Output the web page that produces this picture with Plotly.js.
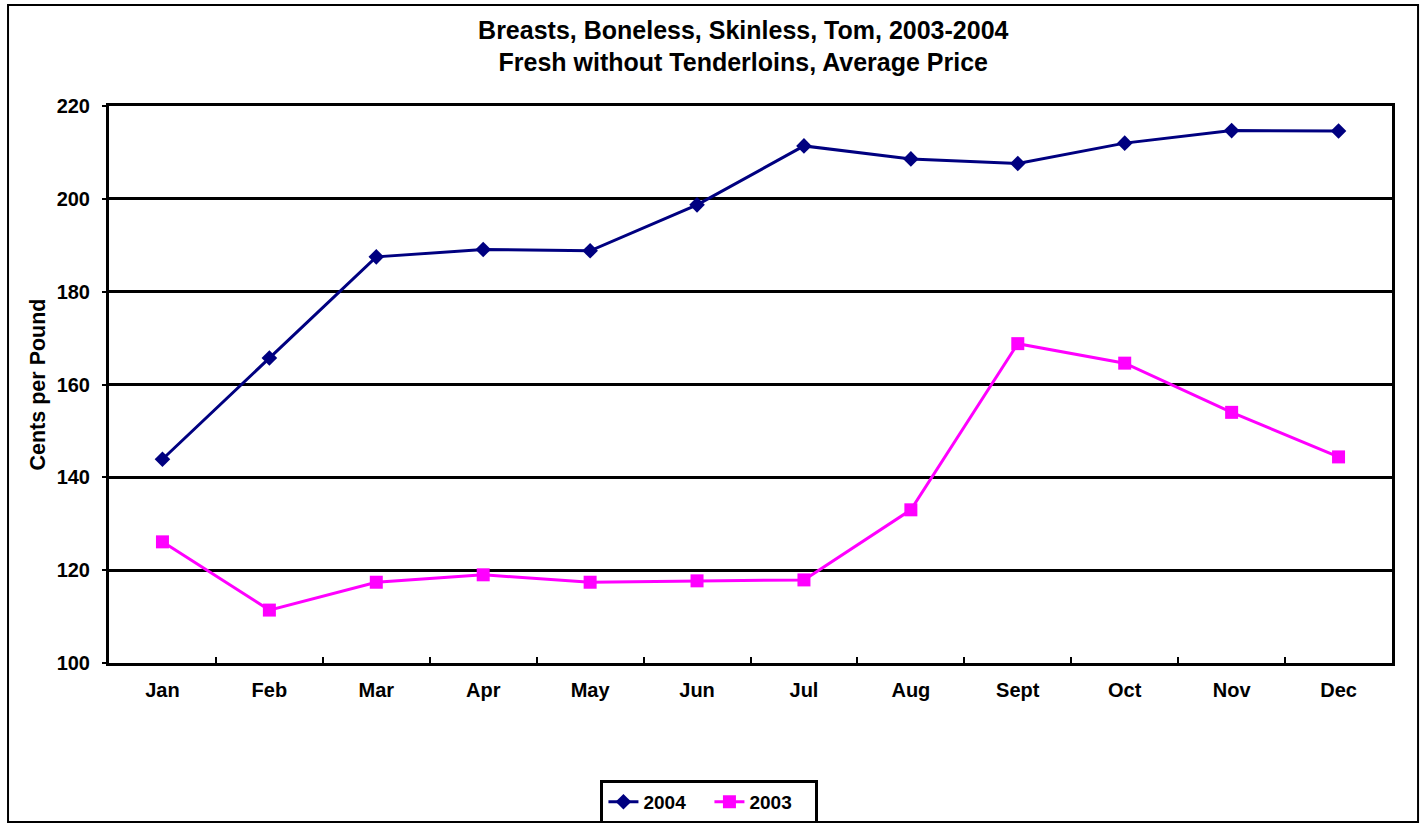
<!DOCTYPE html>
<html>
<head>
<meta charset="utf-8">
<script src="https://cdn.plot.ly/plotly-3.0.1.min.js"></script>
<style>
html,body{margin:0;padding:0;background:#fff;}
#chart{width:1425px;height:823px;}
</style>
</head>
<body>
<div id="chart"></div>
<script>
const months = ["Jan","Feb","Mar","Apr","May","Jun","Jul","Aug","Sept","Oct","Nov","Dec"];
const values2004 = [143.9, 165.7, 187.5, 189.1, 188.8, 198.7, 211.4, 208.6, 207.6, 212.0, 214.7, 214.6];
const values2003 = [126.1, 111.4, 117.4, 119.0, 117.4, 117.7, 117.9, 133.0, 168.8, 164.6, 154.0, 144.4];
const yTicks = [100, 120, 140, 160, 180, 200, 220];

const font = {family: "Liberation Sans, Arial, sans-serif", color: "#000", weight: "bold"};

const traces = [
  {
    x: months, y: values2004, name: "2004", type: "scatter", mode: "lines+markers",
    line: {color: "#000080", width: 3},
    marker: {symbol: "diamond", size: 12, color: "#000080"}
  },
  {
    x: months, y: values2003, name: "2003", type: "scatter", mode: "lines+markers",
    line: {color: "#FF00FF", width: 3},
    marker: {symbol: "square", size: 13, color: "#FF00FF"}
  }
];

const layout = {
  width: 1425, height: 823,
  margin: {l: 109, r: 33, t: 106, b: 160, autoexpand: false},
  paper_bgcolor: "#fff", plot_bgcolor: "#fff",
  showlegend: true,
  title: {
    text: "Breasts, Boneless, Skinless, Tom, 2003-2004<br>Fresh without Tenderloins, Average Price",
    font: Object.assign({}, font, {size: 25}),
    x: 0.5216, xanchor: "center", y: 0.953, yanchor: "middle"
  },
  xaxis: {
    type: "category",
    range: [-0.5, 11.5],
    tickson: "boundaries",
    ticks: "inside", ticklen: 6, tickwidth: 2, tickcolor: "#000",
    showline: true, linecolor: "#000", linewidth: 3, mirror: true,
    showgrid: false, zeroline: false,
    tickfont: Object.assign({}, font, {size: 20}),
    ticklabelstandoff: 7
  },
  yaxis: {
    range: [100, 220],
    tickvals: yTicks,
    ticks: "outside", ticklen: 4, tickwidth: 2, tickcolor: "#000",
    showline: true, linecolor: "#000", linewidth: 3, mirror: true,
    showgrid: true, gridcolor: "#000", gridwidth: 3, zeroline: false,
    tickfont: Object.assign({}, font, {size: 20}),
    ticklabelstandoff: 8,
    title: {text: "Cents per Pound", font: Object.assign({}, font, {size: 21.5}), standoff: 6}
  },
  legend: {
    orientation: "h",
    x: 0.468, xanchor: "center",
    y: -0.21, yanchor: "top",
    bordercolor: "#000", borderwidth: 3,
    font: Object.assign({}, font, {size: 19}),
    entrywidth: 61, entrywidthmode: "pixels",
    tracegroupgap: 0
  },
  shapes: [
    {type: "rect", xref: "paper", yref: "paper",
     x0: -0.0787, x1: 1.0203, y0: -0.2855, y1: 1.1813,
     line: {color: "#000", width: 2}, fillcolor: "rgba(0,0,0,0)", layer: "below"}
  ]
};

Plotly.newPlot("chart", traces, layout, {displayModeBar: false, staticPlot: true});
</script>
</body>
</html>
